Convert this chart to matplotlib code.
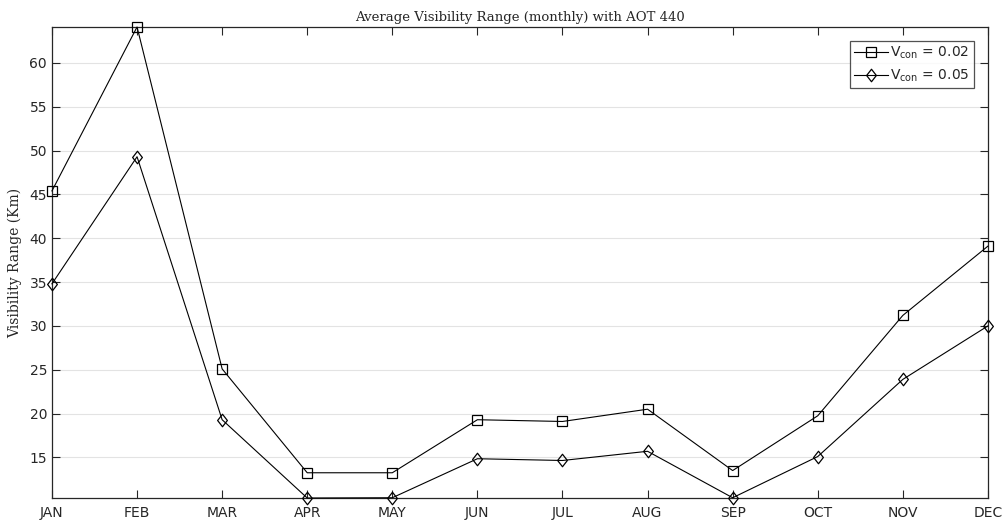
import matplotlib
matplotlib.use("Agg")
import matplotlib.pyplot as plt
from matplotlib.path import Path
import numpy as np

months = ["JAN", "FEB", "MAR", "APR", "MAY", "JUN", "JUL", "AUG", "SEP", "OCT", "NOV", "DEC"]
vis_002 = [45.4, 64.1, 25.1, 13.25, 13.25, 19.3, 19.1, 20.5, 13.5, 19.75, 31.2, 39.1]
vis_005 = [34.8, 49.3, 19.3, 10.37, 10.4, 14.85, 14.65, 15.7, 10.4, 15.1, 23.9, 30.0]
labels = [r"V$_{\mathrm{con}}$ = 0.02", r"V$_{\mathrm{con}}$ = 0.05"]
yticks = [15, 20, 25, 30, 35, 40, 45, 50, 55, 60]

plt.rcParams['font.family'] = ['DejaVu Sans']
dark = "#262626"

diamond = Path([(0, 1), (0.78, 0), (0, -1), (-0.78, 0), (0, 1)],
               [Path.MOVETO, Path.LINETO, Path.LINETO, Path.LINETO, Path.CLOSEPOLY])

fig = plt.figure(figsize=(10.05, 5.24), dpi=100)
ax = fig.add_axes([0.0517, 0.0496, 0.9313, 0.8989])

x = np.arange(len(months))
ax.plot(x, vis_002, color="black", lw=0.8, marker="s", ms=6.5, mfc="none", mec="black", mew=0.9,
        label=labels[0], clip_on=False, zorder=3)
ax.plot(x, vis_005, color="black", lw=0.8, marker=diamond, ms=9, mfc="none", mec="black", mew=0.9,
        label=labels[1], clip_on=False, zorder=3)

ax.set_xlim(0, len(months) - 1)
ymin = min(min(vis_002), min(vis_005))
ymax = max(max(vis_002), max(vis_005))
ax.set_ylim(ymin, ymax)
ax.set_xticks(x)
ax.set_xticklabels(months)
ax.set_yticks(yticks)

ax.yaxis.grid(True, color="#e3e3e3", lw=0.8)
ax.xaxis.grid(False)
ax.set_axisbelow(True)

ax.tick_params(direction="in", length=6, width=0.8, colors=dark, labelsize=10,
               top=True, right=True, labelcolor=dark)
ax.tick_params(axis="x", pad=6)
for s in ax.spines.values():
    s.set_color(dark)
    s.set_linewidth(0.9)

ax.set_title("Average Visibility Range (monthly) with AOT 440", fontname="DejaVu Serif",
             fontsize=9.5, color=dark, pad=4)
ax.set_ylabel("Visibility Range (Km)", fontname="DejaVu Serif", fontsize=10, color=dark, labelpad=5)

leg = ax.legend(loc="upper right", fontsize=10, frameon=True, fancybox=False,
                edgecolor=dark, handlelength=2.4, handletextpad=0.2, borderpad=0.3,
                labelspacing=0.45, borderaxespad=1.0)
leg.get_frame().set_linewidth(0.9)
for t in leg.get_texts():
    t.set_color(dark)

fig.savefig("out.png", dpi=100)
